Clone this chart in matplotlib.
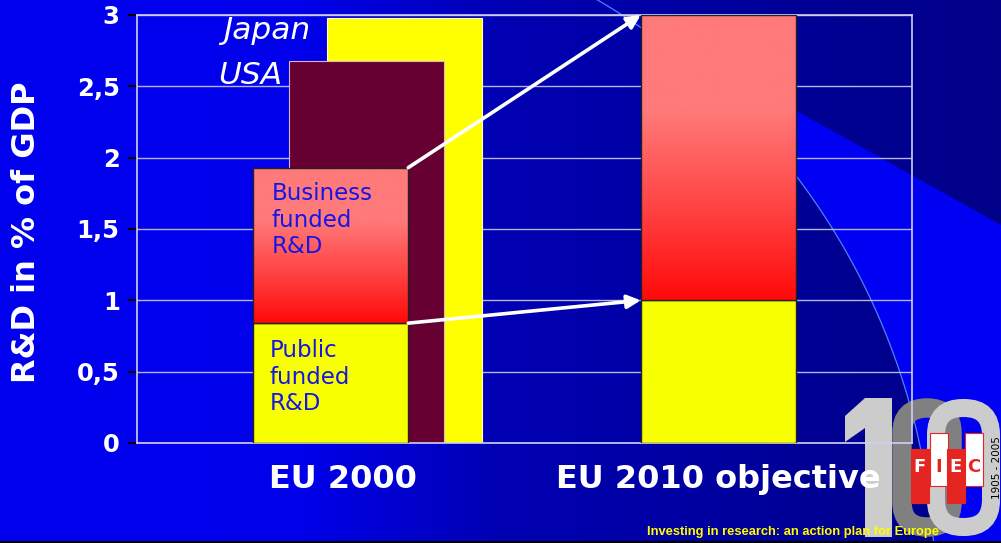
import numpy as np
import matplotlib
matplotlib.use('Agg')
import matplotlib.pyplot as plt
import matplotlib.transforms as mtransforms
from matplotlib.colors import LinearSegmentedColormap
from matplotlib.patches import Rectangle, FancyBboxPatch, Polygon
from matplotlib.ticker import FuncFormatter

categories = ['EU 2000', 'EU 2010 objective']
public_funded = [0.84, 1.0]
business_funded = [1.09, 2.0]
comparators = ['USA', 'Japan']
comparator_values = [2.68, 2.98]
y_ticks = [0, 0.5, 1, 1.5, 2, 2.5, 3]
footer = 'Investing in research: an action plan for Europe'


def draw_background(fig):
    bg = fig.add_axes([0, 0, 1, 1], zorder=-10)
    bg.set_xlim(0, 1001)
    bg.set_ylim(543, 0)
    bg.axis('off')

    # horizontal blue gradient of the slide
    xs = np.arange(1001)
    b = np.interp(xs, [0, 300, 500, 650, 850, 1001], [0.94, 0.92, 0.70, 0.65, 0.57, 0.54])
    img = np.zeros((2, 1001, 3))
    img[:, :, 2] = b
    bg.imshow(img, extent=(0, 1001, 543, 0), aspect='auto', zorder=0)

    # bright band bounded by a diagonal and a large arc
    cx, cy, r = 254, 588, 681
    ang = np.linspace(np.arctan2(4 - cy, 605 - cx), np.arctan2(543 - cy, 933 - cx), 80)
    arc = np.column_stack([cx + r * np.cos(ang), cy + r * np.sin(ang)])
    band = np.vstack([[[605, 4], [1001, 225], [1001, 543]], arc[::-1]])
    bg.add_patch(Polygon(band, closed=True, facecolor='#0000f2', edgecolor='none', zorder=1))
    ang2 = np.linspace(np.arctan2(0 - cy, 597 - cx), np.arctan2(543 - cy, 933 - cx), 120)
    bg.plot(cx + r * np.cos(ang2), cy + r * np.sin(ang2), color='#4f7fff', lw=0.9, zorder=2)

    # "100" logo
    bg.add_patch(FancyBboxPatch((902, 408), 50, 119, boxstyle='round,pad=0,rounding_size=25',
                                facecolor='none', edgecolor='#808080', lw=14, zorder=3))
    bg.add_patch(Polygon([(865, 398), (892, 398), (892, 537), (865, 537), (865, 428), (845, 442), (845, 416)],
                         closed=True, facecolor='#cccccc', edgecolor='none', zorder=4))
    bg.add_patch(FancyBboxPatch((936, 408), 55, 119, boxstyle='round,pad=0,rounding_size=27',
                                facecolor='none', edgecolor='#cccccc', lw=13, zorder=5))

    # FIEC blocks
    red = '#e52521'
    blocks = [(911, 449, red, 'F', 'white'), (930, 433, 'white', 'I', red),
              (947, 449, red, 'E', 'white'), (965, 433, 'white', 'C', red)]
    for x0, y0, fc, letter, tc in blocks:
        bg.add_patch(Rectangle((x0, y0), 17.5, 54 if fc == red else 53, facecolor=fc,
                               edgecolor=red, lw=0.8, zorder=6))
        bg.text(x0 + 8.7, 467, letter, color=tc, fontsize=13, fontweight='bold',
                ha='center', va='center', zorder=7)
    bg.text(997, 468, '1905 - 2005', rotation=90, color='black', fontsize=7.5,
            ha='center', va='center', zorder=7)

    bg.add_patch(Rectangle((0, 541), 1001, 2, facecolor='black', edgecolor='none', zorder=8))


def main():
    fig = plt.figure(figsize=(10.01, 5.43), dpi=100)
    draw_background(fig)

    ax = fig.add_axes([0.1369, 0.1842, 0.7742, 0.7882])
    ax.set_facecolor('none')

    x = np.arange(len(categories))
    w = 0.4
    offsets = [0.092, 0.19]
    comp_colors = ['#660033', '#ffff00']
    comp_edges = ['#d8b8c8', '#ffffc8']

    # comparators behind the EU 2000 bar (Japan furthest back)
    for name, val, off, c, ec in reversed(list(zip(comparators, comparator_values, offsets, comp_colors, comp_edges))):
        ax.bar(x[0] + off, val, w, color=c, edgecolor=ec, lw=0.8, zorder=2)

    ax.bar(x, public_funded, w, color='#f8ff00', edgecolor='#222222', lw=1, zorder=3)
    biz = ax.bar(x, business_funded, w, bottom=public_funded, color='none',
                 edgecolor='#222222', lw=1, zorder=3.2)
    red_cmap = LinearSegmentedColormap.from_list('biz', ['#ff0a0a', '#ff4545', '#ff7a7a', '#ff7a7a'])
    grad = np.linspace(0, 1, 256).reshape(-1, 1)
    for p in biz:
        x0, y0 = p.get_x(), p.get_y()
        im = ax.imshow(grad, extent=(x0, x0 + p.get_width(), y0, y0 + p.get_height()),
                       origin='lower', cmap=red_cmap, aspect='auto', zorder=3.1)
        im.set_clip_path(p)

    totals = [a + b for a, b in zip(public_funded, business_funded)]
    for y_from, y_to in [(totals[0], totals[1]), (public_funded[0], public_funded[1])]:
        ax.annotate('', xy=(x[1] - w / 2, y_to), xytext=(x[0] + w / 2, y_from),
                    arrowprops=dict(arrowstyle='-|>', color='white', lw=2.6,
                                    mutation_scale=20, shrinkA=0, shrinkB=0), zorder=5)

    # labels for the comparator bars
    ax.text(x[0] + offsets[1] - w / 2 - 0.044, comparator_values[1] + 0.01, 'Japan',
            ha='right', va='top', style='italic', fontsize=22.5, color='white', zorder=4)
    ax.text(x[0] + offsets[0] - w / 2 - 0.018, comparator_values[0], 'USA',
            ha='right', va='top', style='italic', fontsize=22.5, color='white', zorder=4)

    ax.annotate('Business\nfunded\nR&D', xy=(x[0] - w / 2, totals[0]), xytext=(13, -10.5),
                textcoords='offset points', ha='left', va='top', fontsize=16.5,
                color='#1515e6', linespacing=1.2, zorder=4)
    ax.annotate('Public\nfunded\nR&D', xy=(x[0] - w / 2, public_funded[0]), xytext=(11.5, -11.5),
                textcoords='offset points', ha='left', va='top', fontsize=16.5,
                color='#1515e6', linespacing=1.2, zorder=4)

    ax.set_xlim(-0.5, 1.5)
    ax.set_ylim(0, 3)
    ax.set_yticks(y_ticks)
    ax.yaxis.set_major_formatter(FuncFormatter(lambda v, pos: f'{v:g}'.replace('.', ',')))
    ax.set_xticks(x)
    ax.set_xticklabels(categories)
    ax.tick_params(axis='y', colors='black', length=6.5, width=1.5, pad=6,
                   labelcolor='white', labelsize=17.5)
    ax.tick_params(axis='x', length=0, pad=15, labelcolor='white', labelsize=23)
    for lab in ax.get_yticklabels() + ax.get_xticklabels():
        lab.set_fontweight('bold')
    # the EU 2000 caption sits a little right of its bar
    first = ax.get_xticklabels()[0]
    first.set_transform(first.get_transform() + mtransforms.ScaledTranslation(12 / 100, 0, fig.dpi_scale_trans))
    ax.yaxis.grid(True, color='#b4b4e6', lw=1)
    ax.set_axisbelow(True)
    for s in ax.spines.values():
        s.set_color('#d0d0f0')
        s.set_linewidth(1.2)

    ax.set_ylabel('R&D in % of GDP', color='white', fontsize=23, fontweight='bold')
    ax.yaxis.set_label_coords(-0.122, 0.492)

    fig.text(0.7927, 1 - 532 / 543, footer, color='#ffff00', fontsize=9.3, fontweight='bold',
             family='Liberation Sans', ha='center', va='center')

    fig.savefig('out.png', dpi=100)


if __name__ == '__main__':
    main()
